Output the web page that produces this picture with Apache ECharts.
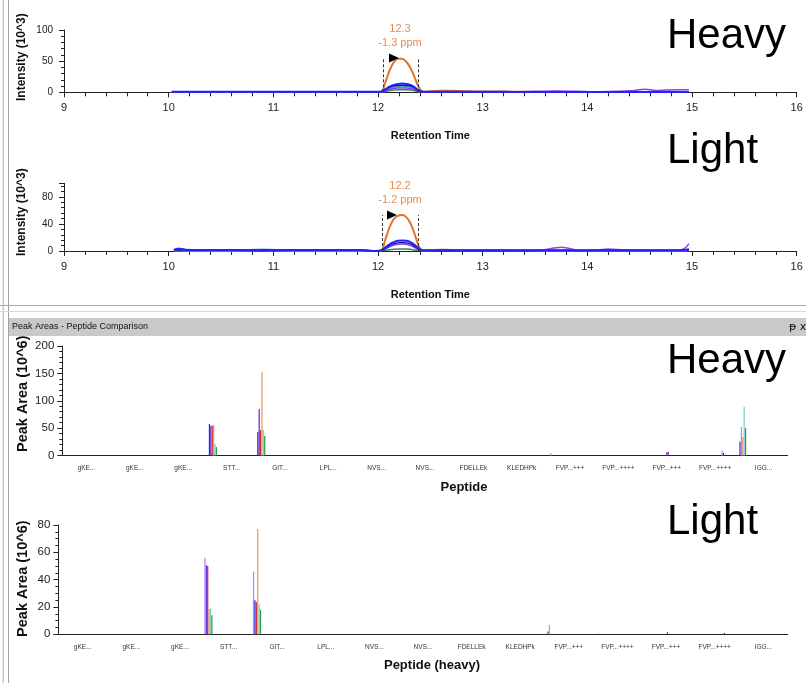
<!DOCTYPE html>
<html><head><meta charset="utf-8">
<script src="https://cdn.jsdelivr.net/npm/echarts@6/dist/echarts.min.js"></script>
<style>html,body{margin:0;padding:0;background:#fff}#c{width:806px;height:683px}</style>
</head><body><div id="c"></div>
<script>
// ================= DATA =================
// Chromatogram (heavy) – retention times and intensities (10^3)
const heavyTimes = [10.03,10.3,10.6,10.9,11.2,11.5,11.8,11.97,12.03,12.07,12.11,12.15,12.19,12.23,12.27,12.31,12.35,12.39,12.43,12.5,12.6,12.7,12.8,12.9,13.1,13.3,13.5,13.7,13.9,14.1,14.3,14.45,14.55,14.65,14.75,14.85,14.97];
const heavyOrange = [0.3,0.3,0.3,0.3,0.3,0.3,0.3,0.3,0.5,16,35,48,54,54,49,39,24,8,1,1.5,2.5,2.5,2,1.5,1.2,1,0.6,0.4,0.3,0.3,0.3,0.3,0.3,0.3,0.3,0.3,0.3];
const heavyTeal   = [0.4,0.4,0.4,0.4,0.4,0.4,0.4,0.4,0.5,3,6,8,9,9.5,9,8,5,2,0.5,0.4,0.4,0.4,0.4,0.4,0.4,0.4,0.4,0.4,0.4,0.4,0.4,0.4,0.4,0.4,0.4,0.4,0.4];
const heavyGreen  = [0.3,0.3,0.3,0.3,0.3,0.3,0.3,0.3,0.4,1.5,3,3.5,4,4,4,3.5,2.5,1,0.3,0.3,0.3,0.3,0.3,0.3,0.3,0.3,0.3,0.3,0.3,0.3,0.3,0.3,0.3,0.3,0.3,0.3,0.3];
const heavyPurple = [0.5,0.5,0.5,0.5,0.5,0.5,0.5,0.5,0.5,2,4.5,6,7,7,7,6,4,1.5,0.5,0.8,1,1,0.8,0.8,1,1,1.5,2,1.5,1,1.5,3,5,3,3.5,4,4];
const heavyNavy   = [0.7,0.7,0.7,0.7,0.7,0.7,0.7,0.7,1,4,8,10,11,11.5,11,10,7,2.5,0.8,0.7,0.7,0.7,0.7,0.7,0.6,0.6,0.6,0.6,0.6,0.6,0.6,0.6,0.6,0.6,0.6,0.6,0.6];
const heavyBlue   = [0.8,0.8,0.8,0.8,0.8,0.8,0.8,0.8,1.5,5,9,12,13.5,14,13.5,12,8,3,1,0.8,1,1,0.8,0.8,0.8,0.6,0.6,0.6,0.6,0.6,0.6,0.6,0.6,0.6,0.6,0.6,0.6];
const heavyPeakApex = [12.21, 55];
const heavyPeakLabel = ['12.3', '-1.3 ppm'];
const heavyPeakBounds = [12.05, 12.38];

// Chromatogram (light)
const lightTimes = [10.05,10.1,10.15,10.3,10.6,10.9,11.2,11.5,11.85,11.93,11.97,12.03,12.07,12.11,12.15,12.19,12.23,12.27,12.31,12.35,12.39,12.43,12.5,12.6,12.7,12.9,13.1,13.3,13.55,13.75,13.95,14.1,14.2,14.35,14.6,14.85,14.93,14.97];
const lightOrange = [0.5,0.8,0.5,0.5,0.5,1,0.5,0.5,0.5,0.2,0,0.5,17,35,47,52,53,50,41,25,7,0.5,1,2,1.5,1,1,0.8,0.5,0.5,0.5,0.5,0.5,0.5,0.5,0.5,0.8,1.2];
const lightGreen  = [0.5,0.8,0.5,0.5,0.5,0.5,0.5,0.5,0.5,0.2,0,0.3,1,2,2.5,3,3,3,2.5,1.5,0.8,0.3,0.3,0.3,0.3,0.3,0.3,0.3,0.3,0.3,0.3,0.3,0.3,0.3,0.3,0.3,0.5,1];
const lightPurple = [2,4,2.5,1,1,2,1,1,1,0.3,0,0.5,3,6,8.5,10,10.5,10,8,5,2,0.5,0.5,0.8,0.5,0.5,0.5,0.5,1,5.5,0.5,1.5,3,1.5,1,1,4,11];
const lightNavy   = [1.5,2,1.5,1.2,1.2,1.5,1.2,1.2,1.2,0.3,0,0.8,4,8,10.5,12,12.5,12,10.5,7,3,0.8,0.8,0.8,0.8,0.8,0.8,0.8,0.8,0.8,0.8,0.8,0.8,0.8,0.8,0.8,1.2,2];
const lightBlue   = [2,3,2,1.5,1.5,1.8,1.5,1.5,1.5,0.3,0,1,5,10,13,15,15.5,15,13,9,4,1,1,1,1,1,1,1,1,1,1,1,1,1,1,1,1.5,3];
const lightPeakApex = [12.21, 53];
const lightPeakLabel = ['12.2', '-1.2 ppm'];
const lightPeakBounds = [12.04, 12.38];

// Peak areas – peptides (categories) and replicate bars
const peptides = ['gKE...','gKE...','gKE...','STT...','GIT...','LPL...','NVS...','NVS...','FDELLEk','KLEDHPk','FVP...+++','FVP...++++','FVP...+++','FVP...++++','IGG...'];
// [peptide index, replicate position within peptide, replicate, peak area (10^6)]
const heavyAreas = [
  [3,1,'blue',57.5],[3,2,'violet',54],[3,3,'red',55],[3,4,'orange',55.5],[3,5,'teal',21],[3,6,'green',15.5],
  [4,1,'blue',43],[4,2,'violet',85],[4,3,'red',46.5],[4,4,'orange',152.5],[4,5,'teal',46.5],[4,6,'green',35.5],
  [10,3,'orange',4],
  [12,17,'violet',6],[12,18,'magenta',7],
  [13,22,'skyblue',9],[13,23,'blue',5],
  [14,0,'blue',25],[14,1,'lavender',52],[14,2,'orange',34],[14,3,'teal',89],[14,4,'green',50]
];
const lightAreas = [
  [3,0,'lavender',56],[3,1,'violet',50.5],[3,2,'red',50],[3,3,'orange',18.5],[3,4,'teal',19],[3,5,'green',14],
  [4,0,'lavender',46],[4,1,'blue',25],[4,2,'red',23.5],[4,3,'orange',77],[4,4,'teal',22],[4,5,'green',18],
  [10,2,'violet',2],[10,3,'orange',7],
  [11,3,'orange',0.8],
  [12,18,'violet',1.5],
  [13,24,'blue',1]
];

// ================= STYLE / BUILD =================
const SLOTS = 35;
const repColors = {blue:'#2626f2', violet:'#6a24d6', red:'#cf2a2a', orange:'#f0935a', teal:'#80cccc', green:'#2a9a4c', lavender:'#a890f2', magenta:'#a0209a', skyblue:'#9cb2ff'};
const SANS = "'Liberation Sans',Arial,sans-serif";
const AXC = '#222';

const slotCats = [];
peptides.forEach((p, i) => { for (let s = 0; s < SLOTS; s++) slotCats.push(i + ':' + s); });
const zip = (t, v) => t.map((x, i) => [x, v[i]]);
const barData = rows => rows.map(r => ({value: [r[0] * SLOTS + r[1], r[3]], itemStyle: {color: repColors[r[2]]}}));

function chromX(grid, name) {
  return {type:'value', gridIndex:grid, min:9, max:16, interval:1,
    axisLine:{onZero:false, lineStyle:{color:AXC}}, axisTick:{length:5, lineStyle:{color:AXC}},
    minorTick:{show:true, splitNumber:5, length:4, lineStyle:{color:AXC}},
    splitLine:{show:false}, minorSplitLine:{show:false},
    axisLabel:{fontSize:11, color:'#222', margin:10, fontFamily:SANS},
    name:name, nameLocation:'middle', nameGap:38,
    nameTextStyle:{fontSize:11, fontWeight:'bold', color:'#111', fontFamily:SANS}};
}
function valY(grid, max, interval, split, name, gap, fs, nfs, pad, margin, fmt) {
  return {type:'value', gridIndex:grid, min:0, max:max, interval:interval,
    axisLine:{show:true, lineStyle:{color:AXC}}, axisTick:{show:true, length:5, lineStyle:{color:AXC}},
    minorTick:{show:true, splitNumber:split, length:3, lineStyle:{color:AXC}},
    splitLine:{show:false}, minorSplitLine:{show:false},
    axisLabel:{fontSize:fs, color:'#222', margin:margin, fontFamily:SANS, formatter: fmt},
    name:name, nameLocation:'middle', nameGap:gap, nameMoveOverlap:false,
    nameTextStyle:{fontSize:nfs, fontWeight:'bold', color:'#111', fontFamily:SANS, padding:[0,0,0,pad]}};
}
function pepX(grid, name, pad) {
  return {type:'category', gridIndex:grid, position:'bottom', data:peptides, boundaryGap:true,
    axisLine:{lineStyle:{color:AXC}}, axisTick:{alignWithLabel:true, length:5, lineStyle:{color:AXC}},
    axisLabel:{interval:0, fontSize:6.5, color:'#333', margin:9, fontFamily:SANS},
    name:name, nameLocation:'middle', nameGap:25,
    nameTextStyle:{fontSize:13, fontWeight:'bold', color:'#111', fontFamily:SANS, padding:[0,0,0,pad]}};
}
function slotX(grid) {
  return {type:'category', gridIndex:grid, position:'top', data:slotCats, show:false, boundaryGap:true};
}
function line(name, xi, t, v, color, w) {
  return {name:name, type:'line', xAxisIndex:xi, yAxisIndex:xi, data:zip(t, v), smooth:0.35, showSymbol:false,
    lineStyle:{color:color, width:w}, itemStyle:{color:color}, z:3};
}
function peakMarks(apex, label, bounds, triOff) {
  return {
    markPoint:{silent:true, data:[
      {coord:apex, symbol:'triangle', symbolRotate:-90, symbolSize:[9,10], symbolOffset:[triOff,0], itemStyle:{color:'#000'}, label:{show:false}},
      {coord:apex, symbol:'rect', symbolSize:1, itemStyle:{color:'rgba(0,0,0,0)'},
       label:{show:true, position:'top', distance:8, formatter:label.join('\n'), color:'#ea8a50', fontSize:11, lineHeight:14, fontFamily:SANS}}
    ]},
    markLine:{silent:true, symbol:'none', label:{show:false}, lineStyle:{type:[3,2], color:'#333', width:1},
      data: bounds.map(b => [{coord:[b, 0]}, {coord:[b, apex[1]]}])}
  };
}

const hOr = Object.assign(line('H orange', 0, heavyTimes, heavyOrange, '#e0742a', 2), peakMarks(heavyPeakApex, heavyPeakLabel, heavyPeakBounds, -6));
const lOr = Object.assign(line('L orange', 1, lightTimes, lightOrange, '#e0742a', 2), peakMarks(lightPeakApex, lightPeakLabel, lightPeakBounds, -8));

const option = {
  animation:false,
  backgroundColor:'#fff',
  grid:[
    {left:64, top:30, width:732.7, height:62.3},
    {left:64, top:183.3, width:732.7, height:67.7},
    {left:62.3, top:346, width:725.4, height:109.5},
    {left:58.4, top:525, width:729.2, height:109.3}
  ],
  xAxis:[
    chromX(0, 'Retention Time'),
    chromX(1, 'Retention Time'),
    pepX(2, 'Peptide', 78),
    slotX(2),
    pepX(3, 'Peptide (heavy)', 18),
    slotX(3)
  ],
  yAxis:[
    valY(0, 100, 50, 5, 'Intensity (10^3)', 36, 10, 12, 8, 11),
    valY(1, 100, 40, 5, 'Intensity (10^3)', 36, 10, 12, 10, 11, v => (v % 40 === 0 ? String(v) : '')),
    valY(2, 200, 50, 5, 'Peak Area (10^6)', 32, 11.5, 14.5, 14, 8),
    valY(3, 80, 20, 4, 'Peak Area (10^6)', 28, 11.5, 14.5, 2, 8)
  ],
  series:[
    hOr,
    line('H teal', 0, heavyTimes, heavyTeal, '#3cbcbc', 1.5),
    line('H green', 0, heavyTimes, heavyGreen, '#2e8b57', 1.5),
    line('H purple', 0, heavyTimes, heavyPurple, '#8a3be6', 1.5),
    line('H navy', 0, heavyTimes, heavyNavy, '#1414a0', 1.5),
    line('H blue', 0, heavyTimes, heavyBlue, '#2222ff', 2),
    lOr,
    line('L green', 1, lightTimes, lightGreen, '#2e8b57', 1.5),
    line('L purple', 1, lightTimes, lightPurple, '#9b3cf0', 1.5),
    line('L navy', 1, lightTimes, lightNavy, '#1414a0', 1.5),
    line('L blue', 1, lightTimes, lightBlue, '#2222ff', 2),
    {name:'Heavy areas', type:'bar', xAxisIndex:3, yAxisIndex:2, data:barData(heavyAreas), barCategoryGap:'10%'},
    {name:'Light areas', type:'bar', xAxisIndex:5, yAxisIndex:3, data:barData(lightAreas), barCategoryGap:'10%'}
  ],
  graphic:[
    {type:'rect', shape:{x:2.5, y:0, width:1.5, height:683}, style:{fill:'#c8c8c8'}, silent:true},
    {type:'rect', shape:{x:8, y:0, width:1, height:683}, style:{fill:'#a0a0a0'}, silent:true},
    {type:'rect', shape:{x:0, y:305, width:806, height:1}, style:{fill:'#a8a8a8'}, silent:true},
    {type:'rect', shape:{x:0, y:311, width:806, height:1}, style:{fill:'#d8d8d8'}, silent:true},
    {type:'rect', shape:{x:9, y:318, width:797, height:18}, style:{fill:'#c9c9c9'}, silent:true},
    {type:'text', x:12, y:327, style:{text:'Peak Areas - Peptide Comparison', fontSize:9, fill:'#111', fontFamily:SANS, textVerticalAlign:'middle'}, silent:true},
    {type:'text', x:789, y:327, style:{text:'ᵽ x', fontSize:11, fill:'#111', fontFamily:"'DejaVu Sans',sans-serif", textVerticalAlign:'middle'}, silent:true},
    {type:'text', x:667, y:36, style:{text:'Heavy', fontSize:42, fill:'#000', fontFamily:SANS, textVerticalAlign:'middle'}, silent:true},
    {type:'text', x:667, y:151, style:{text:'Light', fontSize:42, fill:'#000', fontFamily:SANS, textVerticalAlign:'middle'}, silent:true},
    {type:'text', x:667, y:361, style:{text:'Heavy', fontSize:42, fill:'#000', fontFamily:SANS, textVerticalAlign:'middle'}, silent:true},
    {type:'text', x:667, y:522, style:{text:'Light', fontSize:42, fill:'#000', fontFamily:SANS, textVerticalAlign:'middle'}, silent:true}
  ]
};
echarts.init(document.getElementById('c'), null, {renderer:'canvas'}).setOption(option);
</script></body></html>
